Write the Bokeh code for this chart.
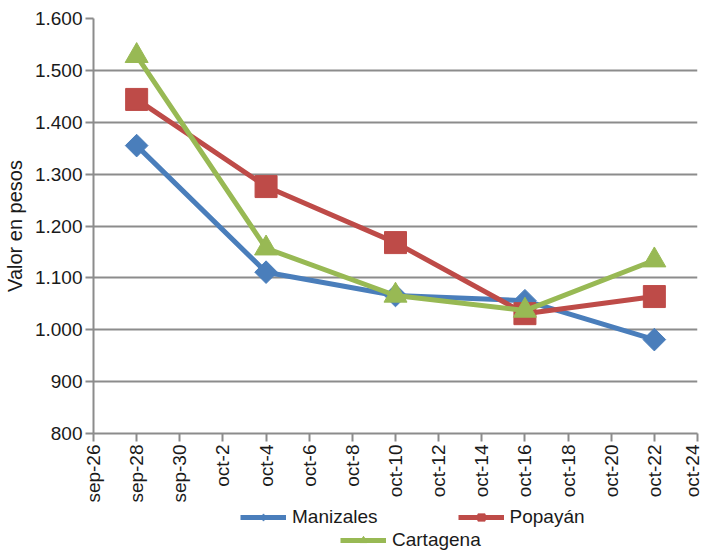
import math
import pandas as pd
from bokeh.plotting import figure
from bokeh.layouts import column
from bokeh.models import (ColumnDataSource, FixedTicker, CustomJSTickFormatter,
                          Legend, LegendItem)
from bokeh.embed import file_html
from bokeh.resources import INLINE

# ---- data ----
fechas = ["2013-09-28", "2013-10-04", "2013-10-10", "2013-10-16", "2013-10-22"]
manizales = [1355, 1111, 1066, 1056, 981]
popayan = [1444, 1276, 1168, 1031, 1064]
cartagena = [1528, 1157, 1066, 1037, 1134]
series_names = ["Manizales", "Popayán", "Cartagena"]

x_start, x_end = "2013-09-26", "2013-10-24"
y_ticks = [800, 900, 1000, 1100, 1200, 1300, 1400, 1500, 1600]
y_tick_labels = ["800", "900", "1.000", "1.100", "1.200", "1.300", "1.400", "1.500", "1.600"]
meses = ["ene", "feb", "mar", "abr", "may", "jun", "jul", "ago", "sep", "oct", "nov", "dic"]

FONT = "Liberation Sans"
GRID = "#8c8c8c"
TXT = "#1a1a1a"
colors = ["#4a7ebb", "#be4b48", "#98b954"]
markers = ["square", "square", "triangle"]
mangles = [math.pi / 4, 0, 0]
msizes = [16, 22, 23]
lmarkers = ["diamond", "square", "triangle"]
lsizes = [14, 14, 15]

x = pd.to_datetime(fechas)
src = ColumnDataSource(dict(x=x, Manizales=manizales, Popayan=popayan, Cartagena=cartagena))
cols = ["Manizales", "Popayan", "Cartagena"]
x_rng = (pd.Timestamp(x_start), pd.Timestamp(x_end))

p = figure(frame_width=604, frame_height=415, x_axis_type="datetime",
           x_range=x_rng, y_range=(800, 1600),
           output_backend="svg", toolbar_location=None,
           min_border_left=84, min_border_top=18, min_border_right=5, min_border_bottom=0)
p.outline_line_color = None
p.background_fill_color = "white"

# axes
ticks_ms = [t.value / 1e6 for t in pd.date_range(x_start, x_end, freq="2D")]
p.xaxis.ticker = FixedTicker(ticks=ticks_ms)
p.xaxis.formatter = CustomJSTickFormatter(args=dict(m=meses), code="""
    const d = new Date(tick);
    return m[d.getUTCMonth()] + "-" + d.getUTCDate();
""")
p.xaxis.major_label_orientation = math.pi / 2
p.yaxis.ticker = FixedTicker(ticks=y_ticks)
p.yaxis.major_label_overrides = {v: s for v, s in zip(y_ticks, y_tick_labels)}
p.yaxis.axis_label = "Valor en pesos"

for ax in (p.xaxis[0], p.yaxis[0]):
    ax.axis_line_color = GRID
    ax.axis_line_width = 2
    ax.major_tick_line_color = GRID
    ax.major_tick_line_width = 2
    ax.major_tick_in = 0
    ax.major_tick_out = 8
    ax.minor_tick_line_color = None
    ax.major_label_text_font = FONT
    ax.major_label_text_font_size = "19px"
    ax.major_label_text_color = TXT
    ax.major_label_standoff = 3
p.yaxis.axis_label_text_font = FONT
p.yaxis.axis_label_text_font_size = "20px"
p.yaxis.axis_label_text_font_style = "normal"
p.yaxis.axis_label_text_color = TXT
p.yaxis.axis_label_standoff = 6

p.xgrid.grid_line_color = None
p.ygrid.ticker = FixedTicker(ticks=y_ticks)
p.ygrid.grid_line_color = GRID
p.ygrid.grid_line_width = 2

for col, c, mk, ma, ms in zip(cols, colors, markers, mangles, msizes):
    p.line("x", col, source=src, line_color=c, line_width=5)
    p.scatter("x", col, source=src, marker=mk, angle=ma, size=ms, fill_color=c, line_color=c)

# ---- legend strip (separate figure below the chart; frames are aligned) ----
lf = figure(width=693, height=46, x_axis_type="datetime", x_range=x_rng, y_range=(0, 1),
            output_backend="svg", toolbar_location=None,
            min_border_left=0, min_border_right=0, min_border_top=0, min_border_bottom=0)
lf.axis.visible = False
lf.grid.visible = False
lf.outline_line_color = None

items = []
for name, col, c, mk, ls in zip(series_names, cols, colors, lmarkers, lsizes):
    lr = lf.line("x", col, source=src, line_color=c, line_width=5)
    sr = lf.scatter("x", col, source=src, marker=mk, size=ls, fill_color=c, line_color=c)
    items.append(LegendItem(label=name, renderers=[lr, sr]))

def mk_legend(its, loc):
    return Legend(items=its, location=loc, orientation="horizontal",
                  label_text_font=FONT, label_text_font_size="19px", label_text_color=TXT,
                  label_height=18, glyph_width=46, glyph_height=18, label_standoff=6, spacing=80,
                  padding=1, margin=0, border_line_color=None, background_fill_alpha=0)

lf.add_layout(mk_legend(items[:2], (147, 23)))
lf.add_layout(mk_legend(items[2:], (247, 0)))

layout = column(p, lf, spacing=0)
open("out.html", "w").write(file_html(layout, INLINE))
